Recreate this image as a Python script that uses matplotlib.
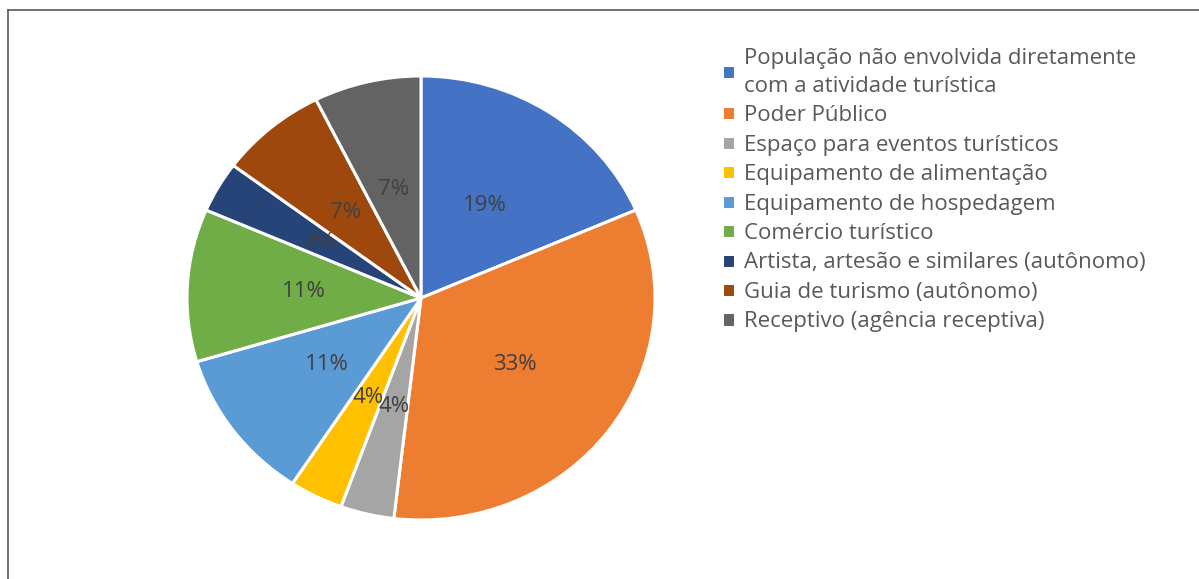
import matplotlib.pyplot as plt
from matplotlib.lines import Line2D

# counts per segment (27 answers) -> shown as rounded %
categories = ["População não envolvida diretamente\ncom a atividade turística",
              "Poder Público",
              "Espaço para eventos turísticos",
              "Equipamento de alimentação",
              "Equipamento de hospedagem",
              "Comércio turístico",
              "Artista, artesão e similares (autônomo)",
              "Guia de turismo (autônomo)",
              "Receptivo (agência receptiva)"]
counts = [5, 9, 1, 1, 3, 3, 1, 2, 2]
colors = ["#4472C4", "#ED7D31", "#A5A5A5", "#FFC000", "#5B9BD5",
          "#70AD47", "#264478", "#9E480E", "#636363"]

plt.rcParams['font.family'] = ['Open Sans', 'DejaVu Sans']

fig = plt.figure(figsize=(11.99, 5.79), dpi=100)
ax = fig.add_axes([187/1199, 59/579, 468/1199, 444/579])

wedges, texts, autotexts = ax.pie(counts, colors=colors, startangle=90, counterclock=False,
                                  autopct='%.0f%%', pctdistance=0.5,
                                  wedgeprops=dict(edgecolor='white', linewidth=2.2),
                                  textprops=dict(color='#404040', fontsize=16))
ax.set_aspect('auto')
ax.set_xlim(-1, 1)
ax.set_ylim(-1, 1)

leg = fig.legend(wedges, categories, loc='upper left',
                 bbox_to_anchor=(706/1199, 1 - 32/579), frameon=False,
                 fontsize=16, labelspacing=0.38, handlelength=0.6, handleheight=0.6,
                 handletextpad=0.4, borderpad=0.2)
for t in leg.get_texts():
    t.set_color('#595959')
    t.set_linespacing(1.45)

# outer frame (only top and left visible)
fig.add_artist(Line2D([8/1199, 8/1199], [0, 1 - 10/579], transform=fig.transFigure,
                      color='#595959', linewidth=1.2))
fig.add_artist(Line2D([8/1199, 1], [1 - 10/579, 1 - 10/579], transform=fig.transFigure,
                      color='#595959', linewidth=1.2))

fig.savefig("out.png", dpi=100)
